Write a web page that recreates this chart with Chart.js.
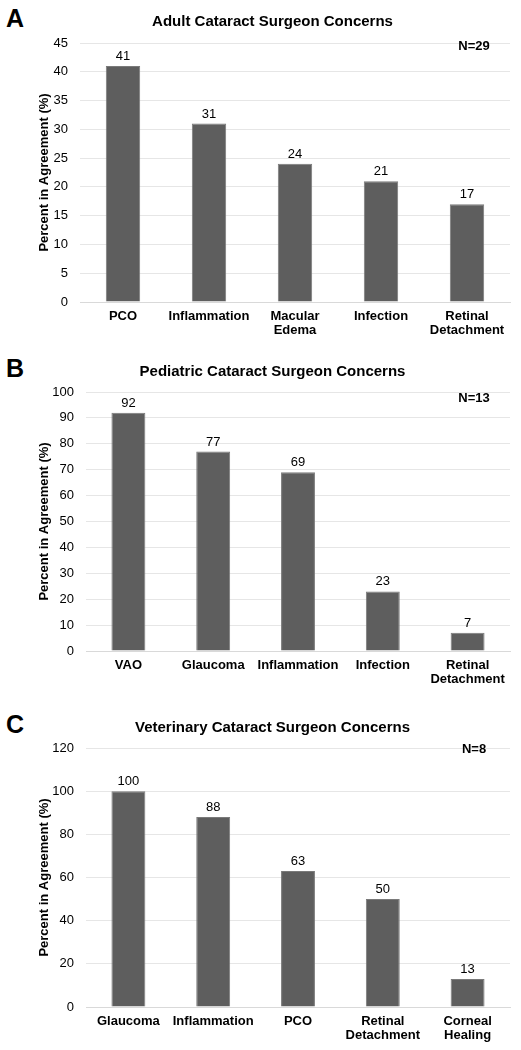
<!DOCTYPE html>
<html>
<head>
    <title>Cataract Surgeon Concerns</title>
    <script src="https://cdn.jsdelivr.net/npm/chart.js"></script>
    <style>
        body {
            margin: 0;
            background-color: #ffffff;
            font-family: "Liberation Sans", Arial, sans-serif;
        }
        .panel {
            position: absolute;
            left: 0;
            width: 521px;
        }
        .letter {
            position: absolute;
            left: 6px;
            font-size: 25px;
            font-weight: bold;
            color: #000;
            line-height: 1;
        }
    </style>
</head>

<body>
    <div class="letter" style="top: 6px;">A</div>
    <div class="letter" style="top: 356px;">B</div>
    <div class="letter" style="top: 712px;">C</div>

    <div class="panel" style="top: 0px; height: 350px;"><canvas id="chartA"></canvas></div>
    <div class="panel" style="top: 350px; height: 356px;"><canvas id="chartB"></canvas></div>
    <div class="panel" style="top: 706px; height: 344px;"><canvas id="chartC"></canvas></div>

    <script>
    // --- data ---
    const adultLabels = ['PCO', 'Inflammation', ['Macular', 'Edema'], 'Infection', ['Retinal', 'Detachment']];
    const adultValues = [41, 31, 24, 21, 17];

    const pediatricLabels = ['VAO', 'Glaucoma', 'Inflammation', 'Infection', ['Retinal', 'Detachment']];
    const pediatricValues = [92, 77, 69, 23, 7];

    const vetLabels = ['Glaucoma', 'Inflammation', 'PCO', ['Retinal', 'Detachment'], ['Corneal', 'Healing']];
    const vetValues = [100, 88, 63, 50, 13];

    const FONT = '"Liberation Sans", Arial, sans-serif';

    // value labels above bars + N= note in top right
    const annotate = {
        id: 'annotate',
        afterDatasetsDraw(chart, args, opts) {
            const ctx = chart.ctx;
            const meta = chart.getDatasetMeta(0);
            ctx.save();
            ctx.fillStyle = '#000';
            ctx.font = '13px ' + FONT;
            ctx.textAlign = 'center';
            ctx.textBaseline = 'alphabetic';
            meta.data.forEach((bar, i) => {
                ctx.fillText(chart.data.datasets[0].data[i], bar.x, bar.y - 6);
            });
            ctx.font = 'bold 13px ' + FONT;
            ctx.textBaseline = 'middle';
            ctx.fillText(opts.text, chart.chartArea.right - 36, chart.chartArea.top + opts.dy);
            ctx.restore();
        }
    };

    function makeChart(id, title, labels, values, yMax, yStep, axisWidth, titleBottom, xHeight, note, noteDy) {
        return new Chart(document.getElementById(id), {
            type: 'bar',
            data: {
                labels: labels,
                datasets: [{
                    data: values,
                    backgroundColor: '#5e5e5e',
                    borderColor: '#7a7a7a',
                    borderWidth: 1,
                    categoryPercentage: 1,
                    barPercentage: 0.4
                }]
            },
            options: {
                responsive: true,
                maintainAspectRatio: false,
                animation: false,
                layout: { padding: { left: 35, right: 11, top: 0, bottom: 0 } },
                plugins: {
                    legend: { display: false },
                    tooltip: { enabled: false },
                    title: {
                        display: true,
                        text: title,
                        color: '#000',
                        font: { family: FONT, size: 15, weight: 'bold', lineHeight: 1.2 },
                        padding: { top: 13, bottom: titleBottom }
                    },
                    annotate: { text: note, dy: noteDy }
                },
                scales: {
                    x: {
                        grid: { display: false, drawTicks: false },
                        border: { display: true, color: '#d9d9d9', width: 1 },
                        ticks: {
                            color: '#000',
                            padding: 7,
                            maxRotation: 0,
                            autoSkip: false,
                            font: { family: FONT, size: 13, weight: 'bold', lineHeight: 1.12 }
                        },
                        afterFit(scale) { scale.height = xHeight; }
                    },
                    y: {
                        min: 0,
                        max: yMax,
                        grid: { color: '#e6e6e6', drawTicks: false },
                        border: { display: false },
                        ticks: {
                            stepSize: yStep,
                            color: '#000',
                            padding: 12,
                            font: { family: FONT, size: 13 }
                        },
                        title: {
                            display: true,
                            text: 'Percent in Agreement (%)',
                            color: '#000',
                            padding: { top: 2, bottom: 0 },
                            font: { family: FONT, size: 13, weight: 'bold', lineHeight: 1.2 }
                        },
                        afterFit(scale) { scale.width = axisWidth; }
                    }
                }
            },
            plugins: [annotate]
        });
    }

    makeChart('chartA', 'Adult Cataract Surgeon Concerns', adultLabels, adultValues, 45, 5, 45, 12, 48, 'N=29', 3);
    makeChart('chartB', 'Pediatric Cataract Surgeon Concerns', pediatricLabels, pediatricValues, 100, 10, 51, 11, 55, 'N=13', 6);
    makeChart('chartC', 'Veterinary Cataract Surgeon Concerns', vetLabels, vetValues, 120, 20, 51, 11, 43, 'N=8', 1);
    </script>
</body>
</html>
